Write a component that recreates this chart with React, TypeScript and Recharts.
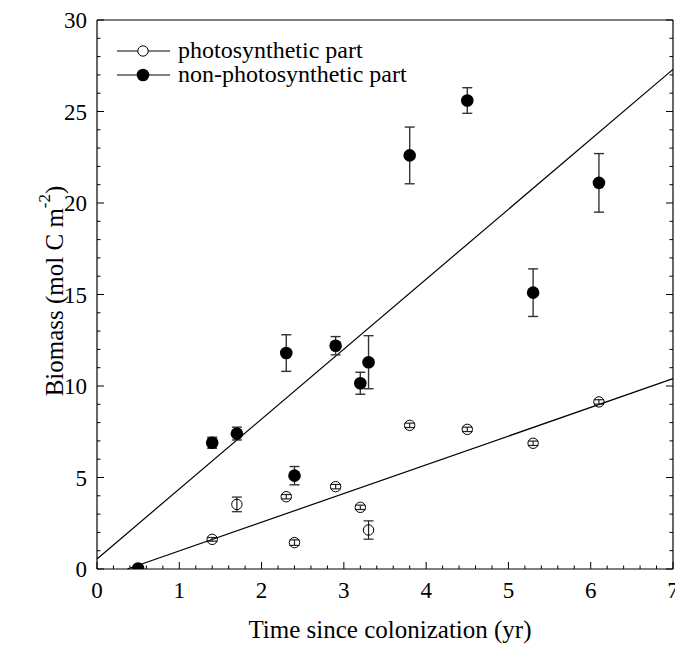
import React from "react";
import { ScatterChart, Scatter, XAxis, YAxis, ErrorBar, ReferenceLine, Legend } from "recharts";

// time since colonization (yr)
const photoX = [1.4, 1.7, 2.3, 2.4, 2.9, 3.2, 3.3, 3.8, 4.5, 5.3, 6.1];
const photoY = [1.62, 3.53, 3.95, 1.44, 4.5, 3.37, 2.13, 7.85, 7.63, 6.87, 9.13];
const photoErr = [0.1, 0.4, 0.12, 0.15, 0.12, 0.12, 0.5, 0.12, 0.12, 0.12, 0.12];

const nonPhotoX = [0.5, 1.4, 1.7, 2.3, 2.4, 2.9, 3.2, 3.3, 3.8, 4.5, 5.3, 6.1];
const nonPhotoY = [0.03, 6.9, 7.4, 11.8, 5.1, 12.2, 10.15, 11.3, 22.6, 25.6, 15.1, 21.1];
const nonPhotoErr = [0, 0.3, 0.35, 1.0, 0.5, 0.5, 0.6, 1.45, 1.55, 0.7, 1.3, 1.6];

// regression line end points
const photoFitX = [0.37, 7];
const photoFitY = [0, 10.4];
const nonPhotoFitX = [0, 7];
const nonPhotoFitY = [0.55, 27.3];

const xMajor = [0, 1, 2, 3, 4, 5, 6, 7];
const xTicks = [
  0, 0.2, 0.4, 0.6, 0.8, 1, 1.2, 1.4, 1.6, 1.8, 2, 2.2, 2.4, 2.6, 2.8, 3, 3.2, 3.4, 3.6, 3.8,
  4, 4.2, 4.4, 4.6, 4.8, 5, 5.2, 5.4, 5.6, 5.8, 6, 6.2, 6.4, 6.6, 6.8, 7,
];
const yMajor = [0, 5, 10, 15, 20, 25, 30];
const yTicks = [
  0, 1, 2, 3, 4, 5, 6, 7, 8, 9, 10, 11, 12, 13, 14, 15, 16, 17, 18, 19, 20,
  21, 22, 23, 24, 25, 26, 27, 28, 29, 30,
];
const legendLabels = ["photosynthetic part", "non-photosynthetic part"];

const FONT = "'Liberation Serif', 'Times New Roman', serif";
const TICK_FS = 23;
const TITLE_FS = 25;
const LEGEND_FS = 24;

const photoData = photoX.map((x, i) => ({ x, y: photoY[i], err: photoErr[i] }));
const nonPhotoData = nonPhotoX.map((x, i) => ({ x, y: nonPhotoY[i], err: nonPhotoErr[i] }));

const isMajor = (v: number, list: number[]) => list.some((m) => Math.abs(m - v) < 1e-6);

const BottomTick = (p: any) => {
  const major = isMajor(p.payload.value, xMajor);
  return (
    <g>
      <line x1={p.x} x2={p.x} y1={p.y} y2={p.y - (major ? 7 : 3.5)} stroke="#000" strokeWidth={1} />
      {major && (
        <text x={p.x} y={p.y + 29} textAnchor="middle" fontFamily={FONT} fontSize={TICK_FS} fill="#000">
          {p.payload.value}
        </text>
      )}
    </g>
  );
};

const TopTick = (p: any) => {
  const major = isMajor(p.payload.value, xMajor);
  return <line x1={p.x} x2={p.x} y1={p.y} y2={p.y + (major ? 7 : 3.5)} stroke="#000" strokeWidth={1} />;
};

const LeftTick = (p: any) => {
  const major = isMajor(p.payload.value, yMajor);
  return (
    <g>
      <line x1={p.x} x2={p.x + (major ? 7 : 3.5)} y1={p.y} y2={p.y} stroke="#000" strokeWidth={1} />
      {major && (
        <text x={p.x - 10} y={p.y + 8} textAnchor="end" fontFamily={FONT} fontSize={TICK_FS} fill="#000">
          {p.payload.value}
        </text>
      )}
    </g>
  );
};

const RightTick = (p: any) => {
  const major = isMajor(p.payload.value, yMajor);
  return <line x1={p.x} x2={p.x - (major ? 7 : 3.5)} y1={p.y} y2={p.y} stroke="#000" strokeWidth={1} />;
};

const OpenDot = (p: any) => <circle cx={p.cx} cy={p.cy} r={5.2} fill="none" stroke="#000" strokeWidth={1} />;
const FilledDot = (p: any) => <circle cx={p.cx} cy={p.cy} r={6.3} fill="#000" />;

const YTitle = () => (
  <text
    transform="translate(46, 283) rotate(-90)"
    textAnchor="middle"
    fontFamily={FONT}
    fontSize={TITLE_FS}
    fill="#000"
    dominantBaseline="central"
  >
    Biomass (mol C m
    <tspan fontSize={17} dy={-10}>-2</tspan>
    <tspan dy={10}>)</tspan>
  </text>
);

const LegendBox = () => (
  <svg width={330} height={52} style={{ display: "block", overflow: "visible" }}>
    {legendLabels.map((label, i) => {
      const cy = 11 + i * 24;
      return (
        <g key={label}>
          <line x1={0} x2={53} y1={cy} y2={cy} stroke="#000" strokeWidth={1} />
          {i === 1 ? (
            <circle cx={26} cy={cy} r={6.3} fill="#000" />
          ) : (
            <circle cx={26} cy={cy} r={5.2} fill="#fff" stroke="#000" strokeWidth={1} />
          )}
          <text x={61} y={cy + 7} fontFamily={FONT} fontSize={LEGEND_FS} fill="#000">
            {label}
          </text>
        </g>
      );
    })}
  </svg>
);

export default function App() {
  return (
    <div style={{ width: 675, height: 638, position: "relative" }}>
      <ScatterChart width={675} height={638} margin={{ top: 0, right: 0, bottom: 0, left: 0 }}>
        <XAxis
          xAxisId="b"
          dataKey="x"
          type="number"
          domain={[0, 7]}
          ticks={xTicks}
          interval={0}
          height={77}
          tickSize={0}
          tickMargin={0}
          tickLine={false}
          axisLine={{ stroke: "#000", strokeWidth: 1.2 }}
          tick={BottomTick}
          allowDataOverflow
          label={{
            value: "Time since colonization (yr)",
            position: "insideBottom",
            offset: 8,
            dx: 5,
            fontFamily: FONT,
            fontSize: TITLE_FS,
            fill: "#000",
          }}
        />
        <XAxis
          xAxisId="t"
          orientation="top"
          type="number"
          domain={[0, 7]}
          ticks={xTicks}
          interval={0}
          height={12}
          tickSize={0}
          tickMargin={0}
          tickLine={false}
          axisLine={{ stroke: "#000", strokeWidth: 1.2 }}
          tick={TopTick}
          allowDataOverflow
        />
        <YAxis
          yAxisId="l"
          dataKey="y"
          type="number"
          domain={[0, 30]}
          ticks={yTicks}
          interval={0}
          width={89}
          tickSize={0}
          tickMargin={0}
          tickLine={false}
          axisLine={{ stroke: "#000", strokeWidth: 1.2 }}
          tick={LeftTick}
          allowDataOverflow
          label={<YTitle />}
        />
        <YAxis
          yAxisId="r"
          orientation="right"
          type="number"
          domain={[0, 30]}
          ticks={yTicks}
          interval={0}
          width={10}
          tickSize={0}
          tickMargin={0}
          tickLine={false}
          axisLine={{ stroke: "#000", strokeWidth: 1.2 }}
          tick={RightTick}
          allowDataOverflow
        />
        <ReferenceLine
          xAxisId="b"
          yAxisId="l"
          segment={[
            { x: nonPhotoFitX[0], y: nonPhotoFitY[0] },
            { x: nonPhotoFitX[1], y: nonPhotoFitY[1] },
          ]}
          stroke="#000"
          strokeWidth={1.2}
          ifOverflow="extendDomain"
        />
        <ReferenceLine
          xAxisId="b"
          yAxisId="l"
          segment={[
            { x: photoFitX[0], y: photoFitY[0] },
            { x: photoFitX[1], y: photoFitY[1] },
          ]}
          stroke="#000"
          strokeWidth={1.2}
          ifOverflow="extendDomain"
        />
        <Scatter
          xAxisId="b"
          yAxisId="l"
          name="photosynthetic part"
          data={photoData}
          shape={OpenDot}
          isAnimationActive={false}
        >
          <ErrorBar dataKey="err" direction="y" width={5} stroke="#222" strokeWidth={1.2} />
        </Scatter>
        <Scatter
          xAxisId="b"
          yAxisId="l"
          name="non-photosynthetic part"
          data={nonPhotoData}
          shape={FilledDot}
          isAnimationActive={false}
        >
          <ErrorBar dataKey="err" direction="y" width={5} stroke="#333" strokeWidth={1.4} />
        </Scatter>
        <Legend
          layout="vertical"
          verticalAlign="middle"
          align="center"
          content={<LegendBox />}
          wrapperStyle={{ position: "absolute", left: 109, top: 32, width: "auto" }}
        />
      </ScatterChart>
    </div>
  );
}
